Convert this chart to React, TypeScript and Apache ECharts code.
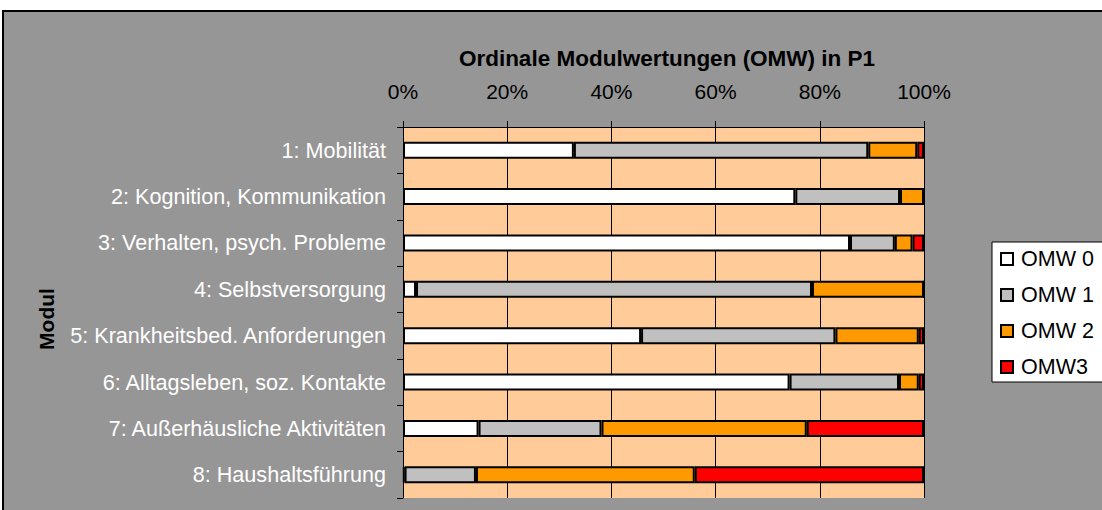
import React, { useEffect, useRef } from "react";
import * as echarts from "echarts";

const categories = [
  "1: Mobilität",
  "2: Kognition, Kommunikation",
  "3: Verhalten, psych. Probleme",
  "4: Selbstversorgung",
  "5: Krankheitsbed. Anforderungen",
  "6: Alltagsleben, soz. Kontakte",
  "7: Außerhäusliche Aktivitäten",
  "8: Haushaltsführung",
];
const seriesNames = ["OMW 0", "OMW 1", "OMW 2", "OMW3"];
const omw0 = [32.8, 75.3, 85.8, 2.5, 45.7, 74.2, 14.5, 0.3];
const omw1 = [56.5, 20.1, 8.6, 76.0, 37.3, 21.0, 23.6, 13.7];
const omw2 = [9.4, 4.6, 3.4, 21.5, 16.0, 3.8, 39.4, 42.0];
const omw3 = [1.3, 0, 2.2, 0, 1.0, 1.0, 22.5, 44.0];
const colors = ["#FFFFFF", "#C0C0C0", "#FF9900", "#FF0000"];
const tickLabels = ["0%", "20%", "40%", "60%", "80%", "100%"];

const FONT = "'Liberation Sans', Arial, sans-serif";

export default function App() {
  const ref = useRef<HTMLDivElement>(null);
  useEffect(() => {
    if (!ref.current) return;
    const chart = echarts.init(ref.current, undefined, { renderer: "svg" });
    const data = [omw0, omw1, omw2, omw3];
    chart.setOption({
      animation: false,
      backgroundColor: "transparent",
      textStyle: { fontFamily: FONT },
      title: {
        text: "Ordinale Modulwertungen (OMW) in P1",
        left: 662,
        top: 42,
        textAlign: "center",
        textStyle: { fontFamily: FONT, fontSize: 22.5, fontWeight: "bold", color: "#000" },
      },
      graphic: [
        {
          type: "text",
          x: 46,
          y: 319,
          rotation: Math.PI / 2,
          style: {
            text: "Modul",
            font: `bold 21px ${FONT}`,
            fill: "#000",
            textAlign: "center",
            textVerticalAlign: "middle",
          },
        },
      ],
      legend: {
        orient: "vertical",
        left: 992,
        top: 242,
        data: seriesNames,
        icon: "rect",
        itemWidth: 12,
        itemHeight: 12,
        itemGap: 14,
        padding: [6, 60, 4, 8],
        backgroundColor: "#FFFFFF",
        borderColor: "#000",
        borderWidth: 1,
        borderRadius: 0,
        textStyle: {
          fontFamily: FONT,
          fontSize: 21.5,
          color: "#000",
          lineHeight: 22,
          padding: [0, 0, 0, 3],
        },
      },
      grid: {
        left: 403,
        top: 127,
        width: 521,
        height: 371,
        show: true,
        backgroundColor: "#FFCC99",
        borderWidth: 0,
      },
      xAxis: {
        type: "value",
        position: "top",
        min: 0,
        max: 100,
        interval: 20,
        axisLine: { show: true, lineStyle: { color: "#000", width: 1 } },
        axisTick: { show: true, inside: false, length: 6, lineStyle: { color: "#000" } },
        splitLine: { show: true, lineStyle: { color: "#000", width: 1 } },
        axisLabel: {
          margin: 25,
          fontFamily: FONT,
          fontSize: 21,
          color: "#000",
          formatter: (v: number) => tickLabels[Math.round(v / 20)] ?? "",
        },
      },
      yAxis: {
        type: "category",
        data: categories,
        inverse: true,
        axisLine: { show: true, lineStyle: { color: "#000", width: 1 } },
        axisTick: { show: true, inside: false, length: 6, lineStyle: { color: "#000" } },
        axisLabel: { margin: 17, fontFamily: FONT, fontSize: 21.6, color: "#FFFFFF" },
      },
      series: data.map((d, i) => ({
        name: seriesNames[i],
        type: "bar",
        stack: "total",
        barWidth: 17,
        data: d,
        itemStyle: { color: colors[i], borderColor: "#000", borderWidth: 2 },
      })),
    });
    return () => chart.dispose();
  }, []);
  return (
    <div style={{ position: "fixed", left: 0, top: 0, width: 1102, height: 510, background: "#FFFFFF", overflow: "hidden" }}>
      <div
        style={{
          position: "absolute",
          left: 2,
          top: 10,
          width: 1120,
          height: 520,
          background: "#969696",
          border: "2px solid #000",
          boxSizing: "border-box",
        }}
      />
      <div ref={ref} style={{ position: "absolute", left: 0, top: 0, width: 1102, height: 510 }} />
    </div>
  );
}
